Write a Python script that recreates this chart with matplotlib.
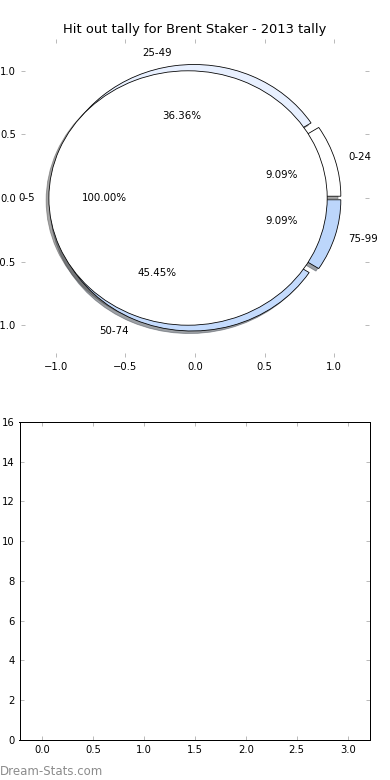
import matplotlib
matplotlib.use("Agg")
import matplotlib.pyplot as plt

title = "Hit out tally for Brent Staker - 2013 tally"
outer_labels = ["0-24", "25-49", "50-74", "75-99"]
outer_values = [1, 4, 5, 1]
outer_colors = ["#ffffff", "#e8f0ff", "#c4dbfd", "#bcd6fb"]
inner_labels = ["0-5"]
inner_values = [11]
inner_colors = ["#ffffff"]

pie_ticks = [-1.0, -0.5, 0.0, 0.5, 1.0]
bottom_xticks = [0.0, 0.5, 1.0, 1.5, 2.0, 2.5, 3.0]
bottom_yticks = [0, 2, 4, 6, 8, 10, 12, 14, 16]

plt.rcParams["font.family"] = ["DejaVu Sans"]
plt.rcParams["font.size"] = 10

fig = plt.figure(figsize=(390 / 72, 780 / 72), dpi=72)

ax1 = fig.add_axes([0.054, 0.5423, 0.892, 0.4077])
shadow_kw = {"ox": -0.02, "oy": -0.02, "zorder": 0.9}
ax1.pie(outer_values, labels=outer_labels, colors=outer_colors,
        explode=[0.05] * len(outer_values), autopct="%1.2f%%",
        shadow=shadow_kw, startangle=0, radius=1.0,
        wedgeprops={"edgecolor": "black", "linewidth": 0.8},
        textprops={"fontsize": 10.3})
ax1.pie(inner_values, labels=inner_labels, colors=inner_colors,
        explode=[0.05], autopct="%1.2f%%", shadow=shadow_kw,
        startangle=0, radius=1.0,
        wedgeprops={"edgecolor": "black", "linewidth": 0.8, "zorder": 1.5},
        textprops={"fontsize": 10.3})
ax1.set_aspect("auto")
ax1.set_frame_on(False)
ax1.set_xlim(-1.25, 1.25)
ax1.set_ylim(-1.25, 1.25)
ax1.set_xticks(pie_ticks)
ax1.set_yticks(pie_ticks)
ax1.tick_params(direction="in", length=4, width=1, color="#bbbbbb",
                top=True, right=True, labelsize=10, pad=5)
ax1.set_title(title, fontsize=13, pad=6)

ax2 = fig.add_axes([0.05, 0.0513, 0.899, 0.408])
ax2.set_xlim(-0.22, 3.22)
ax2.set_ylim(0, 16)
ax2.set_xticks(bottom_xticks)
ax2.set_yticks(bottom_yticks)
ax2.tick_params(direction="in", length=4, width=1, color="#bbbbbb",
                top=True, right=True, labelsize=10, pad=5)
for s in ax2.spines.values():
    s.set_linewidth(1.0)
    s.set_color("black")

fig.text(0.0, 0.0025, "Dream-Stats.com", fontsize=11.8, color="#8c8c8c",
         ha="left", va="bottom")

fig.savefig("out.png", dpi=72)
